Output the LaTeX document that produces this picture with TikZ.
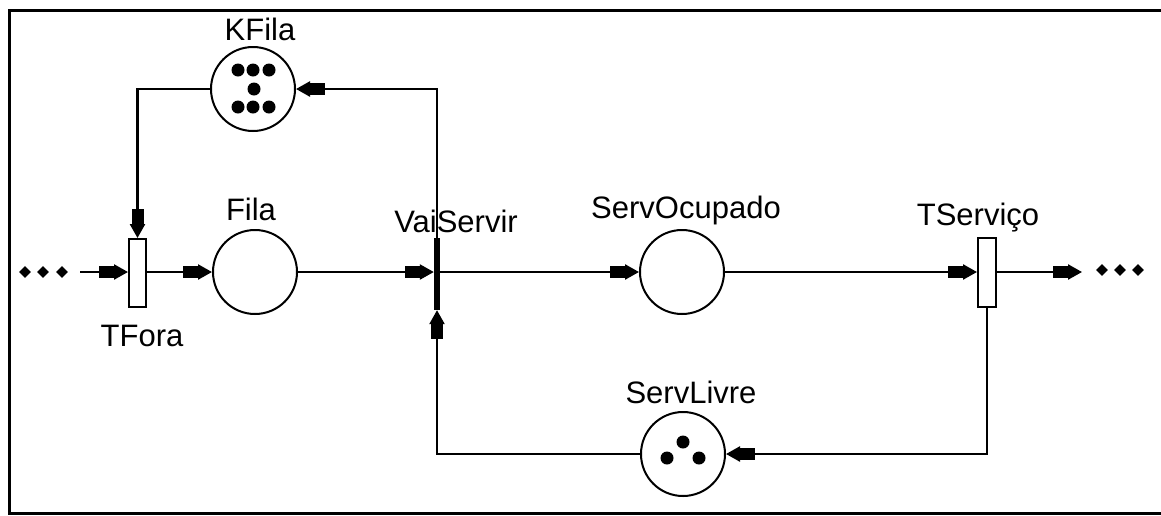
\documentclass[tikz,border=0pt]{standalone}
\usepackage{fontspec}
\setmainfont{Liberation Sans}
\usetikzlibrary{arrows.meta,shapes.geometric}
\begin{document}
\begin{tikzpicture}[x=1pt,y=-1pt,
  pplace/.style={circle,draw,line width=2pt,minimum size=84pt,inner sep=0pt},
  ptrans/.style={rectangle,draw,fill=white,line width=2pt,minimum width=17pt,minimum height=68pt,inner sep=0pt},
  pbar/.style={rectangle,fill=black,minimum width=6pt,minimum height=72pt,inner sep=0pt},
  ptok/.style={circle,fill=black,minimum size=13pt,inner sep=0pt},
  pdot/.style={diamond,fill=black,minimum size=12pt,inner sep=0pt},
  lbl/.style={anchor=base,inner sep=0pt,font=\fontsize{31}{31}\selectfont},
  pnarc/.style={line width=2.5pt,-{Rectangle[length=16pt,width=12pt,sep=-1pt]Triangle[length=14pt,width=15pt]}},
  pframe/.style={line width=3pt}]
\useasboundingbox (0,0) rectangle (1161,515);
% frame
\draw[pframe] (1161,10) -- (9,10) -- (9,513) -- (1161,513);
% places
\node[pplace] (kf) at (253,89) {};
\node[pplace] (fi) at (255,272) {};
\node[pplace] (so) at (682,272) {};
\node[pplace] (sl) at (683,454) {};
% transitions
\node[ptrans] (tf) at (137.5,273) {};
\node[ptrans,minimum width=18pt,minimum height=69pt] (ts) at (987,272) {};
\node[pbar] (vs) at (437,274) {};
% tokens
\node[ptok] (k1) at (238,70) {};
\node[ptok] (k2) at (253,70) {};
\node[ptok] (k3) at (269,70) {};
\node[ptok] (k4) at (254,89) {};
\node[ptok] (k5) at (238,107) {};
\node[ptok] (k6) at (253,107) {};
\node[ptok] (k7) at (269,107) {};
\node[ptok] (s1) at (683,442) {};
\node[ptok] (s2) at (667,458) {};
\node[ptok] (s3) at (699,458) {};
% ellipsis dots
\node[pdot] (d1) at (25,272) {};
\node[pdot] (d2) at (43,272) {};
\node[pdot] (d3) at (62,272) {};
\node[pdot] (e1) at (1102,270) {};
\node[pdot] (e2) at (1120,270) {};
\node[pdot] (e3) at (1138,270) {};
\coordinate (in) at (80,272);
\coordinate (out) at (1082,272);
% labels
\node[lbl] (lkf) at (260,40) {KFila};
\node[lbl] (lfi) at (251,220) {Fila};
\node[lbl] (lvs) at (456,232) {VaiServir};
\node[lbl] (lso) at (686,218) {ServOcupado};
\node[lbl] (lts) at (978,225) {TServiço};
\node[lbl] (ltf) at (142,346) {TFora};
\node[lbl] (lsl) at (691,403) {ServLivre};
% arcs
\draw[pnarc] (in) -- (in -| tf.west);
\draw[pnarc] (fi -| tf.east) -- (fi);
\draw[pnarc] (fi) -- (fi -| vs.west);
\draw[pnarc] (so -| vs.east) -- (so);
\draw[pnarc] (so) -- (ts);
\draw[pnarc] (ts) -- (out);
\draw[pnarc] (kf) -| (tf.north);
\draw[pnarc] (vs.north) |- (kf);
\draw[pnarc] (ts.south) |- (sl);
\draw[pnarc] (sl) -| (vs.south);
\end{tikzpicture}
\end{document}
